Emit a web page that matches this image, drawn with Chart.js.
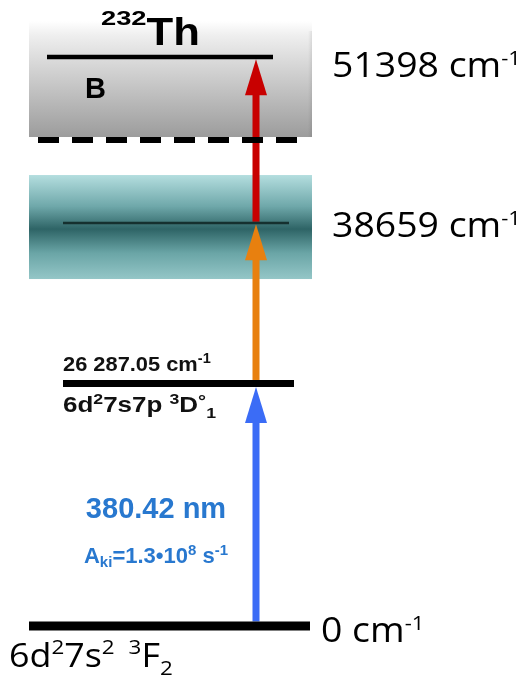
<!DOCTYPE html>
<html>
<head>
<meta charset="utf-8">
<script src="https://cdn.jsdelivr.net/npm/chart.js@4/dist/chart.umd.min.js"></script>
<style>
  html, body { margin: 0; padding: 0; background: #fff; }
  #wrap { width: 531px; height: 681px; }
</style>
</head>
<body>
<div id="wrap"><canvas id="c" width="531" height="681"></canvas></div>
<script>
// ---- Data: 232Th three-step excitation scheme (energies in cm^-1) ----
const levelEnergies = [0, 26287.05, 38659, 51398];
const ionizationLimit = 50867;
const stepLower = [0, 26287.05, 38659];
const stepUpper = [26287.05, 38659, 51398];
const firstStepWavelengthNm = 380.42;
const firstStepAkiMantissa = 1.3;
const firstStepAkiExponent = 8;

// ---- Layout / style ----
const SANS = '"Liberation Sans", Arial, sans-serif';
const BODY = '"Open Sans", sans-serif';
const LEVEL_STYLE = [
  { x0: 29, x1: 310, width: 9,   color: '#000000' },
  { x0: 63, x1: 294, width: 7,   color: '#000000' },
  { x0: 63, x1: 289, width: 2.5, color: '#15302f' },
  { x0: 47, x1: 273, width: 4.5, color: '#000000' }
];
const STEP_COLORS = ['#3b6cf6', '#e8800f', '#c80000'];
const ARROW_X = 256;
const TEXT_BLUE = '#2878cf';

// Broken (piecewise-linear) energy axis: each energy is pinned to a
// fraction of the plot height, so the scheme stays readable.
const AXIS_STOPS = [
  [0,        0.0808],
  [26287.05, 0.4369],
  [38659,    0.6725],
  [50867,    0.7944],
  [51398,    0.9163]
];

class BrokenScale extends Chart.LinearScale {
  static id = 'broken';
  static defaults = Chart.LinearScale.defaults;
  _frac(v) {
    const s = AXIS_STOPS;
    let i = 0;
    while (i < s.length - 2 && v > s[i + 1][0]) i++;
    const [e0, f0] = s[i], [e1, f1] = s[i + 1];
    return f0 + (v - e0) * (f1 - f0) / (e1 - e0);
  }
  getPixelForValue(v) {
    return this.getPixelForDecimal(this._frac(v));
  }
  getValueForPixel(p) {
    const d = this.getDecimalForPixel(p);
    const s = AXIS_STOPS;
    let i = 0;
    while (i < s.length - 2 && d > s[i + 1][1]) i++;
    const [e0, f0] = s[i], [e1, f1] = s[i + 1];
    return e0 + (d - f0) * (e1 - e0) / (f1 - f0);
  }
}
Chart.register(BrokenScale);

// Draw a sequence of text runs (for super/subscripts) starting at x, baseline y
function drawRuns(ctx, x, y, runs, color, sxAll) {
  let cx = x;
  ctx.fillStyle = color || '#000';
  ctx.textBaseline = 'alphabetic';
  ctx.textAlign = 'left';
  for (const r of runs) {
    ctx.font = `${r.weight || 'normal'} ${r.size}px ${r.family || SANS}`;
    const sx = (r.sx || 1) * (sxAll || 1);
    const w = ctx.measureText(r.t).width * sx;
    ctx.save();
    ctx.translate(cx, y + (r.dy || 0));
    ctx.scale(sx, 1);
    ctx.fillText(r.t, 0, 0);
    ctx.restore();
    cx += w + (r.gap || 0);
  }
  return cx - x;
}
function runsWidth(ctx, runs, sxAll) {
  let w = 0;
  for (const r of runs) {
    ctx.font = `${r.weight || 'normal'} ${r.size}px ${r.family || SANS}`;
    w += ctx.measureText(r.t).width * (r.sx || 1) * (sxAll || 1) + (r.gap || 0);
  }
  return w;
}
const grouped = e => {
  const [i, f] = e.toFixed(2).split('.');
  return i.replace(/\B(?=(\d{3})+$)/g, ' ') + '.' + f;
};

const schemePlugin = {
  id: 'scheme',
  beforeDatasetsDraw(chart) {
    const { ctx } = chart;
    const xs = chart.scales.x, ys = chart.scales.y;
    const X = v => xs.getPixelForValue(v);
    const Y = v => ys.getPixelForValue(v);

    // continuum band above the ionization limit
    const gTop = Y(levelEnergies[3]) - 36, gBot = Y(ionizationLimit) - 3;
    const gl = X(29), gr = X(312);
    let g = ctx.createLinearGradient(0, gTop, 0, gBot);
    g.addColorStop(0, '#ffffff');
    g.addColorStop(0.12, '#efefef');
    g.addColorStop(1, '#9c9c9c');
    ctx.fillStyle = g;
    ctx.fillRect(gl, gTop, gr - gl, gBot - gTop);
    // faint shade on the right edge
    g = ctx.createLinearGradient(gr - 4, 0, gr, 0);
    g.addColorStop(0, 'rgba(0,0,0,0)');
    g.addColorStop(1, 'rgba(0,0,0,0.08)');
    ctx.fillStyle = g;
    ctx.fillRect(gr - 4, gTop + 10, 4, gBot - gTop - 10);

    // broad intermediate band around the second level
    const tTop = Y(levelEnergies[2]) - 48, tBot = Y(levelEnergies[2]) + 56;
    g = ctx.createLinearGradient(0, tTop, 0, tBot);
    g.addColorStop(0, '#b4dedf');
    g.addColorStop(0.3, '#6fa8aa');
    g.addColorStop(0.52, '#2e6466');
    g.addColorStop(0.75, '#6aa5a6');
    g.addColorStop(1, '#94c6c7');
    ctx.fillStyle = g;
    ctx.fillRect(gl, tTop, gr - gl, tBot - tTop);

    // excitation arrows
    const ax = X(ARROW_X);
    stepLower.forEach((lo, i) => {
      const hi = stepUpper[i];
      const li = levelEnergies.indexOf(lo), ui = levelEnergies.indexOf(hi);
      const yStart = Y(lo) - LEVEL_STYLE[li].width / 2;
      const yTip = Y(hi) + LEVEL_STYLE[ui].width / 2;
      const headLen = 36, headW = 22, shaftW = 7;
      ctx.fillStyle = STEP_COLORS[i];
      ctx.fillRect(ax - shaftW / 2, yTip + headLen - 1, shaftW, yStart - (yTip + headLen - 1));
      ctx.beginPath();
      ctx.moveTo(ax, yTip);
      ctx.lineTo(ax + headW / 2, yTip + headLen);
      ctx.lineTo(ax - headW / 2, yTip + headLen);
      ctx.closePath();
      ctx.fill();
    });
  },
  afterDatasetsDraw(chart) {
    const { ctx } = chart;
    const xs = chart.scales.x, ys = chart.scales.y;
    const X = v => xs.getPixelForValue(v);
    const Y = v => ys.getPixelForValue(v);

    // isotope title
    drawRuns(ctx, X(101), 45, [
      { t: '232', size: 21, weight: 'bold', dy: -20, sx: 1.3 },
      { t: 'Th', size: 39, weight: 'bold', sx: 1.12 }
    ]);
    drawRuns(ctx, X(85), Y(levelEnergies[3]) + 41, [
      { t: 'B', size: 29, weight: 'bold' }
    ]);

    // energies on the right
    const big = (e, x, off) => drawRuns(ctx, X(x), Y(e) + off, [
      { t: String(Math.round(e)) + ' cm', size: 34, family: BODY },
      { t: '-1', size: 20, family: BODY, dy: -12 }
    ], '#000', 1.1);
    big(levelEnergies[3], 332, 20);
    big(levelEnergies[2], 332, 14);
    big(levelEnergies[0], 321, 16);

    // ground configuration
    drawRuns(ctx, X(9), Y(levelEnergies[0]) + 41, [
      { t: '6d', size: 32, family: BODY },
      { t: '2', size: 20, family: BODY, dy: -13 },
      { t: '7s', size: 32, family: BODY },
      { t: '2', size: 20, family: BODY, dy: -13 },
      { t: '  ', size: 24, family: BODY },
      { t: '3', size: 20, family: BODY, dy: -13 },
      { t: 'F', size: 32, family: BODY },
      { t: '2', size: 20, family: BODY, dy: 8 }
    ], '#000', 1.12);

    // first excited level
    const y1 = Y(levelEnergies[1]);
    drawRuns(ctx, X(63), y1 - 12, [
      { t: grouped(levelEnergies[1]) + ' cm', size: 21, weight: 'bold' },
      { t: '-1', size: 14, weight: 'bold', dy: -8 }
    ], '#111', 1.04);
    drawRuns(ctx, X(63), y1 + 29, [
      { t: '6d', size: 22, weight: 'bold' },
      { t: '2', size: 15, weight: 'bold', dy: -8 },
      { t: '7s7p ', size: 22, weight: 'bold' },
      { t: '3', size: 15, weight: 'bold', dy: -8 },
      { t: 'D', size: 22, weight: 'bold' },
      { t: '°', size: 17, weight: 'bold', dy: -5 },
      { t: '1', size: 15, weight: 'bold', dy: 6 }
    ], '#111', 1.18);

    // first-step transition data
    const mid = (Y(stepLower[0]) + Y(stepUpper[0])) / 2;
    const cx = X(156);
    const l1 = [{ t: firstStepWavelengthNm.toFixed(2) + ' nm', size: 29, weight: 'bold' }];
    drawRuns(ctx, cx - runsWidth(ctx, l1) / 2, mid + 13, l1, TEXT_BLUE);
    const l2 = [
      { t: 'A', size: 22, weight: 'bold' },
      { t: 'ki', size: 15, weight: 'bold', dy: 4 },
      { t: '=' + firstStepAkiMantissa.toFixed(1) + '•10', size: 22, weight: 'bold' },
      { t: String(firstStepAkiExponent), size: 15, weight: 'bold', dy: -8 },
      { t: ' s', size: 22, weight: 'bold' },
      { t: '-1', size: 15, weight: 'bold', dy: -8 }
    ];
    drawRuns(ctx, cx - runsWidth(ctx, l2) / 2, mid + 58, l2, TEXT_BLUE);
  }
};

// level lines + ionization limit as line datasets
const datasets = levelEnergies.map((e, i) => ({
  data: [{ x: LEVEL_STYLE[i].x0, y: e }, { x: LEVEL_STYLE[i].x1, y: e }],
  borderColor: LEVEL_STYLE[i].color,
  borderWidth: LEVEL_STYLE[i].width,
  showLine: true,
  pointRadius: 0
}));
datasets.push({
  data: [{ x: 38, y: ionizationLimit }, { x: 303, y: ionizationLimit }],
  borderColor: '#000000',
  borderWidth: 6,
  borderDash: [21, 13],
  showLine: true,
  pointRadius: 0
});

new Chart(document.getElementById('c'), {
  type: 'scatter',
  data: { datasets },
  options: {
    responsive: false,
    animation: false,
    devicePixelRatio: 1,
    layout: { padding: 0 },
    plugins: { legend: { display: false }, tooltip: { enabled: false } },
    scales: {
      x: { type: 'linear', min: 0, max: 531, display: false },
      y: { type: 'broken', min: 0, max: 60000, display: false }
    }
  },
  plugins: [schemePlugin]
});
</script>
</body>
</html>
